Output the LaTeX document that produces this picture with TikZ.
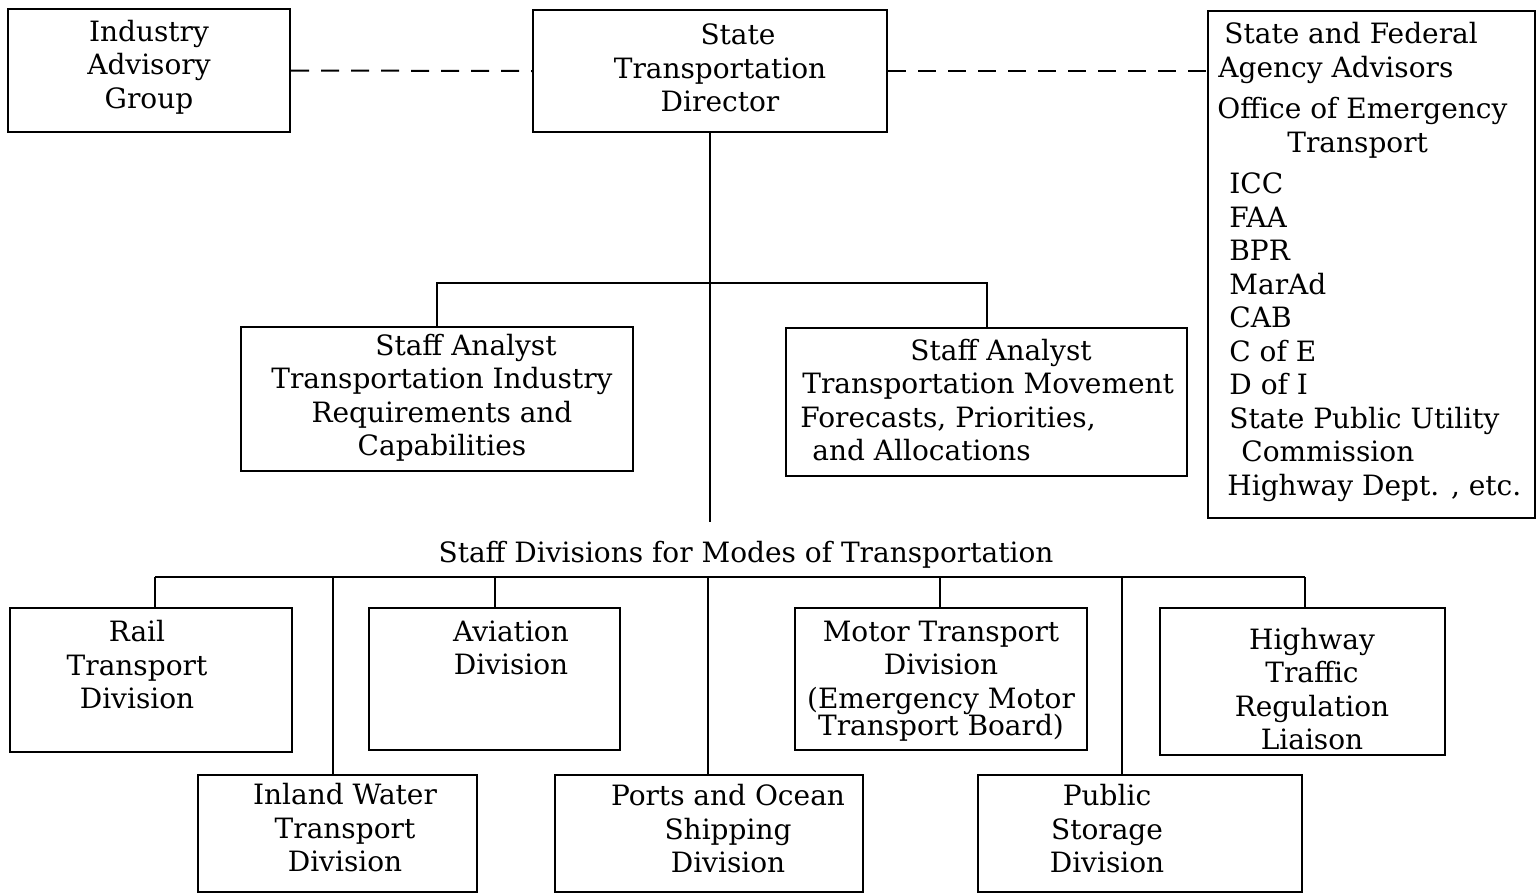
\documentclass[tikz,border=0pt]{standalone}
\usepackage{fontspec}
\setmainfont{DejaVu Serif}
\usetikzlibrary{fit}
\tikzset{
  box/.style={draw, line width=1.2pt, inner sep=0pt},
  txt/.style={inner sep=0pt, align=center, font=\fontsize{14}{16.75}\selectfont},
  ltxt/.style={inner sep=0pt, align=left, font=\fontsize{14}{16.75}\selectfont},
  link/.style={line width=1pt},
  advise/.style={line width=1pt, dash pattern=on 9pt off 6pt}
}
\begin{document}
\begin{tikzpicture}[x=0.5pt,y=-0.5pt]
\useasboundingbox (0,0) rectangle (1536,895);

% top row
\node[box, fit={(8,9)(290,132)}] (iag) {};
\node[txt] (iagT) at (149,67) {Industry\\Advisory\\Group};

\node[box, fit={(533,10)(887,132)}] (std) {};
\node[txt] (stdT) at (720,68) {\hspace*{18pt}State\\Transportation\\Director};

\node[box, fit={(1208,11)(1535,518)}] (sfa) {};
\node[ltxt, anchor=north west] (sfaT) at (1217,22) {%
\hspace*{3.5pt}State and Federal\\
\hspace*{0.5pt}Agency Advisors\\[4pt]
Office of Emergency\\
\hspace*{35pt}Transport\\[4pt]
\hspace*{6pt}ICC\\
\hspace*{6pt}FAA\\
\hspace*{6pt}BPR\\
\hspace*{6pt}MarAd\\
\hspace*{6pt}CAB\\
\hspace*{6pt}C of E\\
\hspace*{6pt}D of I\\
\hspace*{6pt}State Public Utility\\
\hspace*{12pt}Commission\\
\hspace*{5pt}Highway Dept. , etc.};

% staff analysts
\node[box, fit={(241,327)(633,471)}] (saL) {};
\node[txt] (saLT) at (442,398) {\hspace*{24pt}Staff Analyst\\Transportation Industry\\Requirements and\\Capabilities};

\node[box, fit={(786,328)(1187,476)}] (saR) {};
\node[ltxt, anchor=west] (saRT) at (800,400) {%
\hspace*{55pt}Staff Analyst\\
\hspace*{1pt}Transportation Movement\\
Forecasts, Priorities,\\
\hspace*{6pt}and Allocations};

% divisions heading
\node[txt] (sdh) at (746,555) {Staff Divisions for Modes of Transportation};

% division boxes, upper row
\node[box, fit={(10,608)(292,752)}] (rail) {};
\node[txt] (railT) at (137,665) {Rail\\Transport\\Division};

\node[box, fit={(369,608)(620,750)}] (avn) {};
\node[txt] (avnT) at (511,648) {Aviation\\Division};

\node[box, fit={(795,608)(1087,750)}] (mot) {};
\node[txt] (motT) at (941,681) {Motor Transport\\Division\\(Emergency Motor\\[-3pt]Transport Board)};

\node[box, fit={(1160,608)(1445,755)}] (hwy) {};
\node[txt] (hwyT) at (1312,689) {Highway\\Traffic\\Regulation\\Liaison};

% division boxes, lower row
\node[box, fit={(198,775)(477,892)}] (inl) {};
\node[txt] (inlT) at (345,828) {Inland Water\\Transport\\Division};

\node[box, fit={(555,775)(863,892)}] (prt) {};
\node[txt] (prtT) at (728,829) {Ports and Ocean\\Shipping\\Division};

\node[box, fit={(978,775)(1302,892)}] (pub) {};
\node[txt] (pubT) at (1107,829) {Public\\Storage\\Division};

% advisory links
\draw[advise] (iag.east) -- (std.west);
\draw[advise] (std.east) -- (std.east -| sfa.west);

% line of authority
\coordinate (trunkEnd) at (710,522);
\draw[link] (std.south) -- (trunkEnd);
\coordinate (aBar) at (710,283);
\draw[link] (saL.north) |- (aBar) -| (saR.north);

% bus for the staff divisions
\coordinate (busL) at (155,577);
\coordinate (busR) at (1305,577);
\draw[link] (busL) -- (busR);
\coordinate (avnTap) at (495,577);
\coordinate (motTap) at (940,577);
\coordinate (inlTap) at (333,577);
\coordinate (prtTap) at (708,577);
\coordinate (pubTap) at (1122,577);
\draw[link] (busL) -- (busL |- rail.north);
\draw[link] (avnTap) -- (avnTap |- avn.north);
\draw[link] (motTap) -- (motTap |- mot.north);
\draw[link] (busR) -- (busR |- hwy.north);
\draw[link] (inlTap) -- (inlTap |- inl.north);
\draw[link] (prtTap) -- (prtTap |- prt.north);
\draw[link] (pubTap) -- (pubTap |- pub.north);
\end{tikzpicture}
\end{document}
